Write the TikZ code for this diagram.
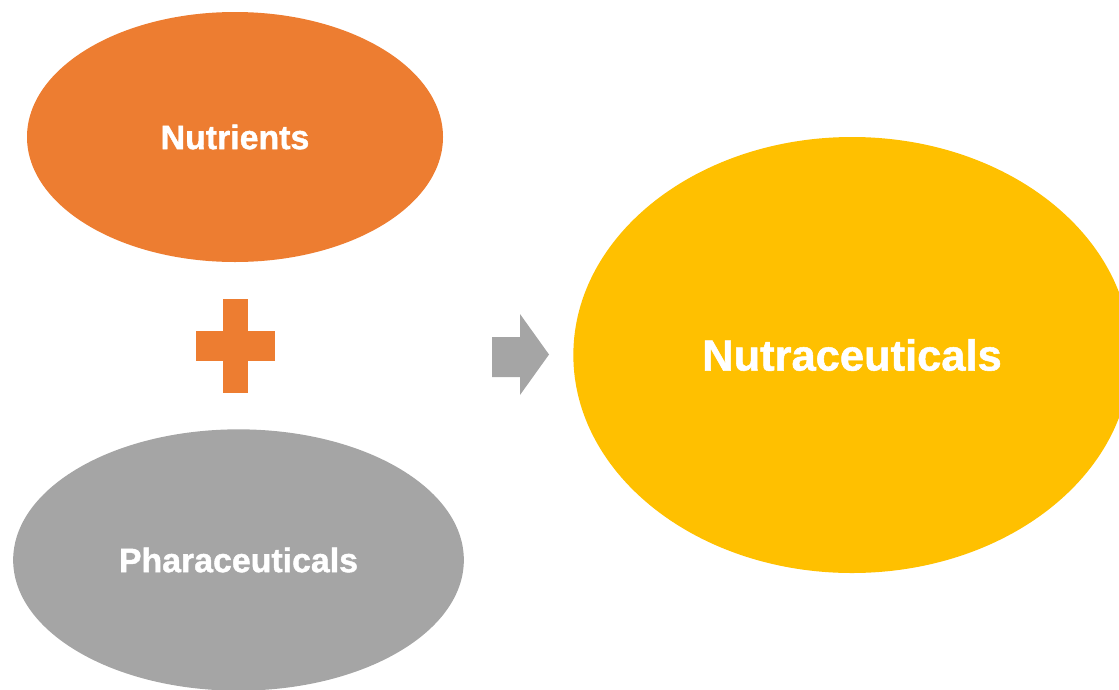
\documentclass[tikz,border=0pt]{standalone}
\usepackage{fontspec}
\setmainfont{Liberation Sans}[BoldFeatures={FakeBold=1.2}]
\usetikzlibrary{shapes.geometric}
\definecolor{nutOrange}{HTML}{ED7D31}
\definecolor{pharmaGray}{HTML}{A5A5A5}
\definecolor{nutraGold}{HTML}{FFC000}
\begin{document}
\begin{tikzpicture}[x=0.75pt, y=-0.75pt,
    blobStyle/.style={ellipse, inner sep=0pt, text=white, font=\bfseries\fontsize{25.4}{30}\selectfont}]
                    \useasboundingbox (0,0) rectangle (1119,689);
                    \clip (0,0) rectangle (1119,689);
                    \node[blobStyle, fill=nutOrange, minimum width=312pt, minimum height=187.5pt](nutrients) at (235, 137) {Nutrients};
                    \node[blobStyle, fill=pharmaGray, minimum width=338pt, minimum height=196pt](pharma) at (238.5, 560) {Pharaceuticals};
                    \node[blobStyle, fill=nutraGold, minimum width=418pt, minimum height=327pt, font=\bfseries\fontsize{32.6}{38}\selectfont](nutra) at (852, 355) {Nutraceuticals};

                    % plus sign
                    \fill[nutOrange] (223, 299) rectangle (248, 393);
                    \fill[nutOrange] (196, 331) rectangle (275, 361);

                    % block arrow
                    \fill[pharmaGray] (492, 337) -- (520, 337) -- (520, 314) -- (549, 354.5)
                        -- (520, 395) -- (520, 377) -- (492, 377) -- cycle;
                \end{tikzpicture}
\end{document}
